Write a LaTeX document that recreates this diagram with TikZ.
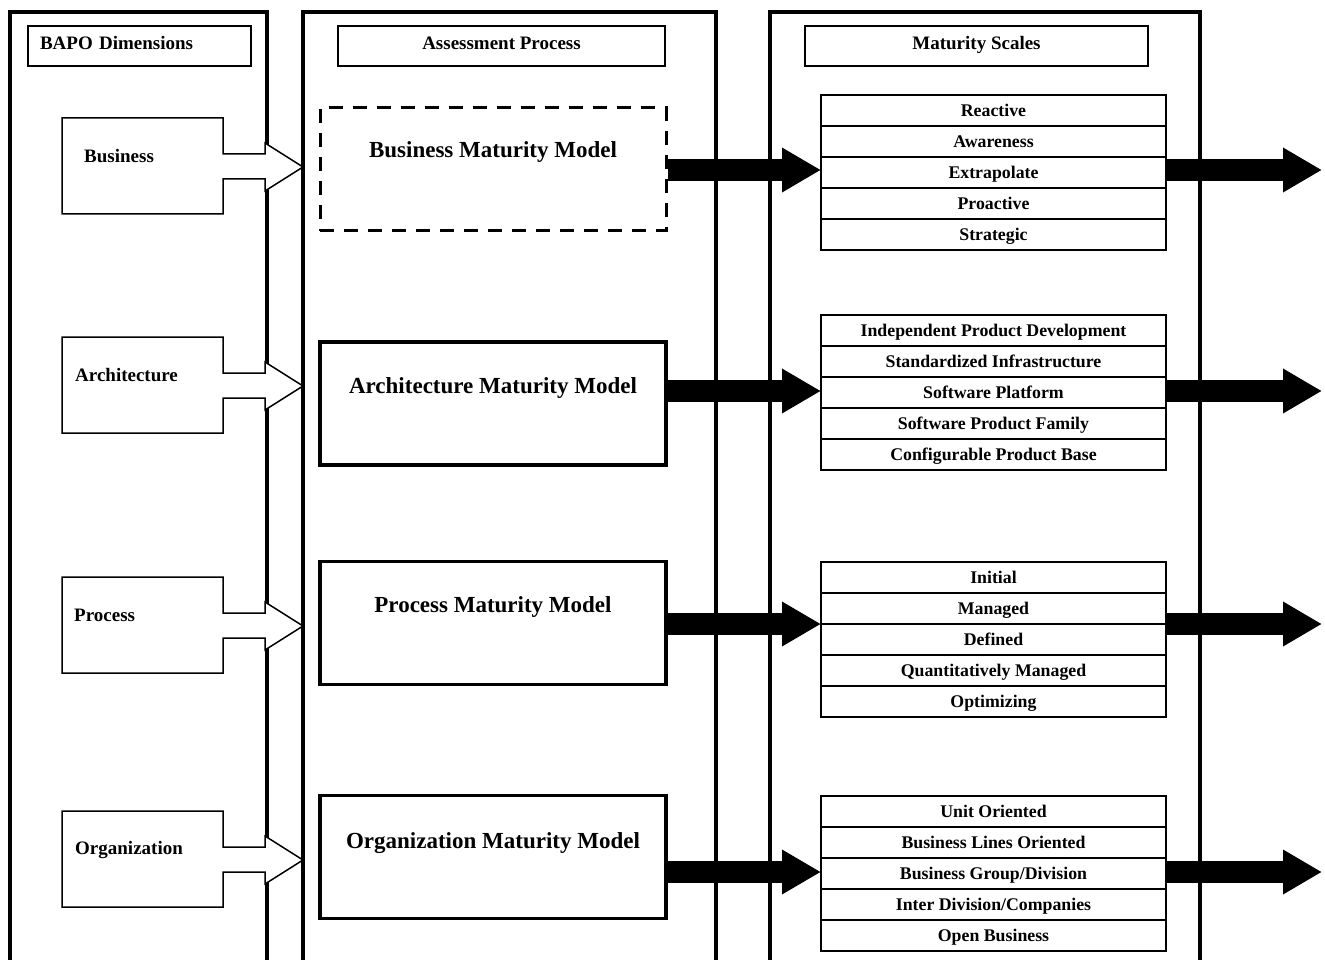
\documentclass[tikz,border=0pt]{standalone}
\usepackage{fontspec}
\setmainfont{Liberation Serif}
\usetikzlibrary{arrows.meta}
\begin{document}
\begin{tikzpicture}[x=1pt,y=-1pt,line join=miter,
  col/.style={line width=4pt},
  hdr/.style={draw,line width=1.3pt,minimum height=40pt,inner sep=0pt,text height=10.5pt,text depth=3.5pt,font=\fontsize{19}{19}\selectfont\bfseries},
  callout/.style={draw,fill=white,line width=1.5pt},
  clabel/.style={anchor=base west,inner sep=0pt,font=\fontsize{19}{19}\selectfont\bfseries},
  mbox/.style={draw,line width=3.5pt,minimum width=346pt,minimum height=123pt,inner sep=0pt},
  mboxdash/.style={mbox,line width=3pt,dash pattern=on 14pt off 10pt},
  mtext/.style={inner sep=0pt,anchor=base,font=\fontsize{23}{23}\selectfont\bfseries},
  srow/.style={draw,line width=1.3pt,outer sep=0pt,minimum width=345pt,minimum height=31pt,inner sep=0pt,text height=13pt,text depth=1pt,font=\fontsize{17.8}{17.8}\selectfont\bfseries},
  nxt/.style={srow,anchor=north},
  big/.style={line width=22pt,-{Triangle[width=42pt,length=39pt]}}]
\useasboundingbox (0,0) rectangle (1325,960);
% columns
\draw[col] (10,975) |- (267,12) -- (267,975);
\draw[col] (303,975) |- (716,12) -- (716,975);
\draw[col] (770,975) |- (1200,12) -- (1200,975);
% headers
\node[hdr,minimum width=223pt,text width=199pt,inner xsep=12pt,align=left] (h1) at (139.5,46) {BAPO Dimensions};
\node[hdr,minimum width=327pt] (h2) at (501.5,46) {Assessment Process};
\node[hdr,minimum width=343pt] (h3) at (976.5,46) {Maturity Scales};
% left callouts
\foreach \T/\nm in {118/cb,337/ca,577/cp,811/co}{
  \draw[callout] (62,\T) -- (223,\T) -- (223,{\T+36}) -- (265,{\T+36}) -- (265,{\T+25})
    -- (303,{\T+49}) -- (265,{\T+73}) -- (265,{\T+61}) -- (223,{\T+61}) -- (223,{\T+96})
    -- (62,{\T+96}) -- cycle;
}
\node[clabel] (lb) at (84,163) {Business};
\node[clabel] (la) at (75,381.5) {Architecture};
\node[clabel] (lp) at (74,621) {Process};
\node[clabel] (lo) at (75,854.5) {Organization};
% middle boxes
\node[mboxdash] (bmm) at (493,169.5) {};
\node[mbox] (amm) at (493,403.5) {};
\node[mbox] (pmm) at (493,623) {};
\node[mbox] (omm) at (493,857) {};
\node[mtext] (tb) at (493,158) {Business Maturity Model};
\node[mtext] (ta) at (493,393) {Architecture Maturity Model};
\node[mtext] (tp) at (493,612) {Process Maturity Model};
\node[mtext] (to) at (493,848) {Organization Maturity Model};
% scales
\node[srow] (b1) at (993.5,110.5) {Reactive};
\node[nxt] (b2) at (b1.south) {Awareness};
\node[nxt] (b3) at (b2.south) {Extrapolate};
\node[nxt] (b4) at (b3.south) {Proactive};
\node[nxt] (b5) at (b4.south) {Strategic};
\node[srow] (a1) at (993.5,330.5) {Independent Product Development};
\node[nxt] (a2) at (a1.south) {Standardized Infrastructure};
\node[nxt] (a3) at (a2.south) {Software Platform};
\node[nxt] (a4) at (a3.south) {Software Product Family};
\node[nxt] (a5) at (a4.south) {Configurable Product Base};
\node[srow] (p1) at (993.5,577.5) {Initial};
\node[nxt] (p2) at (p1.south) {Managed};
\node[nxt] (p3) at (p2.south) {Defined};
\node[nxt] (p4) at (p3.south) {Quantitatively Managed};
\node[nxt] (p5) at (p4.south) {Optimizing};
\node[srow] (o1) at (993.5,811.5) {Unit Oriented};
\node[nxt] (o2) at (o1.south) {Business Lines Oriented};
\node[nxt] (o3) at (o2.south) {Business Group/Division};
\node[nxt] (o4) at (o3.south) {Inter Division/Companies};
\node[nxt] (o5) at (o4.south) {Open Business};
% arrows
\coordinate (eb) at (1322,170);
\coordinate (ea) at (1322,391);
\coordinate (ep) at (1322,624);
\coordinate (eo) at (1322,872);
\draw[big] (bmm.east |- eb) -- (b1.west |- eb);
\draw[big] (amm.east |- ea) -- (a1.west |- ea);
\draw[big] (pmm.east |- ep) -- (p1.west |- ep);
\draw[big] (omm.east |- eo) -- (o1.west |- eo);
\draw[big] (b1.east |- eb) -- (eb);
\draw[big] (a1.east |- ea) -- (ea);
\draw[big] (p1.east |- ep) -- (ep);
\draw[big] (o1.east |- eo) -- (eo);
\end{tikzpicture}
\end{document}
